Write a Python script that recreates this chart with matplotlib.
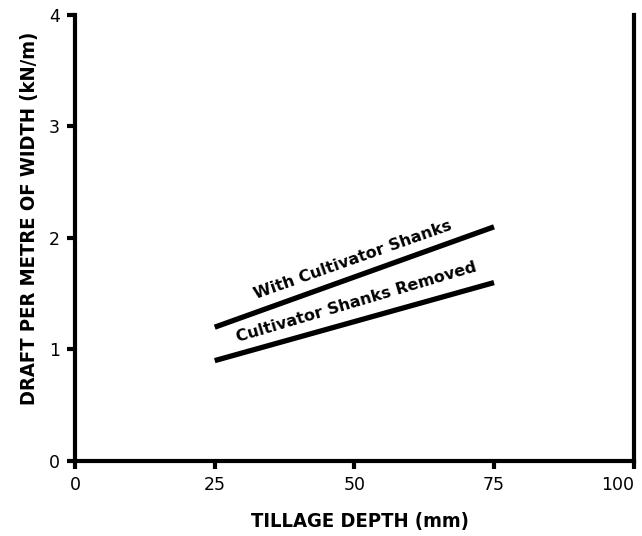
import matplotlib.pyplot as plt

# Data
depth = [25, 75]
with_shanks = [1.2, 2.1]
shanks_removed = [0.9, 1.6]
x_ticks = [0, 25, 50, 75, 100]
y_ticks = [0, 1, 2, 3, 4]

fig = plt.figure(figsize=(6.42, 5.36), dpi=100)
ax = fig.add_axes([0.117, 0.14, 0.870, 0.832])

# Data lines
ax.plot(depth, with_shanks, color='black', lw=3.8, solid_capstyle='butt')
ax.plot(depth, shanks_removed, color='black', lw=3.8, solid_capstyle='butt')

# Labels along the lines
ax.text(49.7, 1.80, 'With Cultivator Shanks', rotation=19.5, ha='center', va='center',
        fontsize=11.5, fontweight='bold', family='DejaVu Sans', rotation_mode='anchor')
ax.text(50.4, 1.42, 'Cultivator Shanks Removed', rotation=16.5, ha='center', va='center',
        fontsize=11.5, fontweight='bold', family='DejaVu Sans', rotation_mode='anchor')

ax.set_xlim(0, 100)
ax.set_ylim(0, 4)
ax.set_xticks(x_ticks)
ax.set_yticks(y_ticks)
ax.tick_params(axis='both', width=3, length=6, labelsize=12.5, pad=5)
ax.get_xticklabels()[-1].set_horizontalalignment('right')

ax.spines['top'].set_visible(False)
for side in ['left', 'bottom', 'right']:
    ax.spines[side].set_linewidth(3)

lab = dict(family='DejaVu Sans', fontweight='bold', fontstretch='condensed', fontsize=14.5)
ax.set_xlabel('TILLAGE DEPTH (mm)', labelpad=13, **lab)
ax.set_ylabel('DRAFT PER METRE OF WIDTH (kN/m)', labelpad=7, **lab)
ax.xaxis.label.set_x(0.51)
ax.yaxis.label.set_y(0.545)

fig.savefig('out.png', dpi=100)
